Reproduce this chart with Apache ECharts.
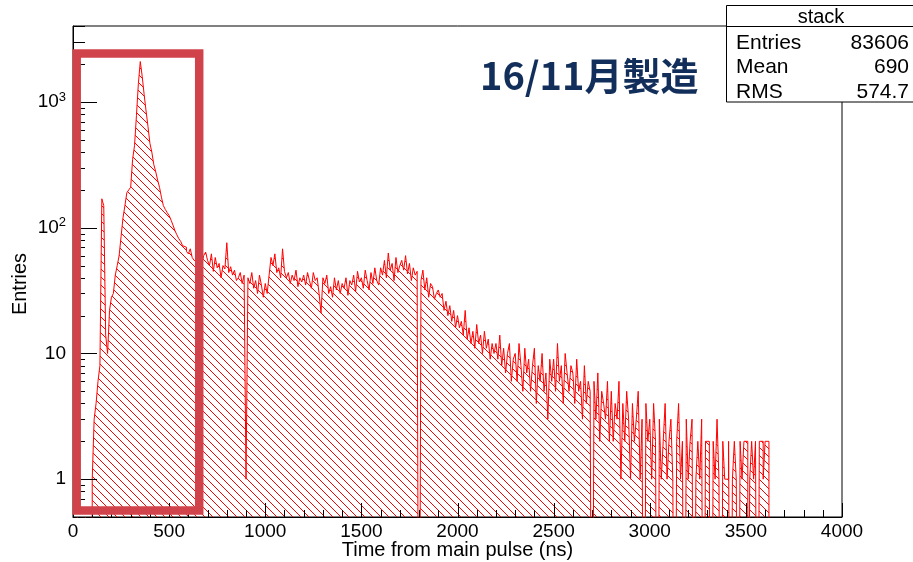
<!DOCTYPE html>
<html>
<head>
<meta charset="utf-8">
<script src="https://cdn.jsdelivr.net/npm/echarts@6/dist/echarts.min.js"></script>
<style>
html,body{margin:0;padding:0;background:#fff;}
#chart{width:913px;height:562px;}
</style>
</head>
<body>
<div id="chart"></div>
<script>
// ---- data ----
const binWidth = 10;      // ns per bin
const binStart = 0;       // ns of first bin
const counts = [
  0,0,0,0,0,0,0,0,0,0,
  1,3,4,6,8,170,150,14,10,22,
  28,30,42,50,60,85,120,150,190,200,
  210,350,450,780,1400,2100,1600,1150,850,640,
  470,400,320,280,240,210,175,150,140,132,
  125,115,105,95,88,82,78,72,70,65,
  62,68,58,55,54,58,63,52,60,64,
  55,50,62,45,58,48,52,40,50,47,
  76,44,49,42,46,38,40,44,36,42,
  1,40,36,44,33,38,30,42,35,28,
  36,30,42,58,50,62,44,48,40,68,
  45,40,44,36,42,38,46,34,40,37,
  42,35,44,38,33,44,38,40,30,21,
  40,36,42,30,34,28,40,32,38,30,
  36,33,40,29,38,35,42,31,45,37,
  40,33,46,38,32,44,36,48,38,35,
  48,42,55,40,63,46,52,38,58,44,
  50,55,46,60,43,52,38,48,42,45,
  0,38,46,32,40,28,36,34,27,30,
  32,28,30,22,26,20,24,18,22,16,
  20,16,18,14,22,13,16,12,15,11,
  17,12,14,10,15,11,13,9,12,10,
  12,9,14,8,11,7,10,12,6,9,
  10,6,12,8,5,11,7,9,5,8,
  11,4,8,6,10,5,7,3,9,6,
  9,5,12,6,8,4,10,7,5,8,
  7,4,9,5,6,3,8,4,6,5,
  0,6,3,7,2,5,4,3,6,2,
  5,2,4,3,6,1,4,2,5,3,
  1,4,2,3,5,1,3,0,4,2,
  3,1,4,2,0,3,1,2,4,1,
  2,3,1,0,2,4,1,2,0,3,
  1,2,3,0,1,2,1,3,0,2,
  2,1,0,2,1,3,1,0,2,1,
  1,2,0,1,2,1,0,2,1,2,
  2,0,1,2,1,2,0,2,2,1,
  2,2
];
const xMin = 0, xMax = 4000, xInterval = 500;
const yMin = 0.5, yMax = 4027;
const xMajorTicks = [0, 500, 1000, 1500, 2000, 2500, 3000, 3500, 4000];
const xMinorTicks = [100,200,300,400,600,700,800,900,1100,1200,1300,1400,1600,1700,1800,1900,2100,2200,2300,2400,2600,2700,2800,2900,3100,3200,3300,3400,3600,3700,3800,3900];
const yMajorTicks = [1, 10, 100, 1000];
const yMajorLabels = ['1', '10', '10{sup|2}', '10{sup|3}'];
const yMinorTicks = [0.6,0.7,0.8,0.9,2,3,4,5,6,7,8,9,20,30,40,50,60,70,80,90,200,300,400,500,600,700,800,900,2000,3000,4000];
const xTitle = 'Time from main pulse (ns)';
const yTitle = 'Entries';
const statsTitle = 'stack';
const statsNames = ['Entries', 'Mean', 'RMS'];
const statsValues = ['83606', '690', '574.7'];
const noteText = '16/11月製造';

// ---- build ----
const EMPTY = 1e-3; // empty bins are drawn below the log-axis floor
const seriesData = counts.map((c, i) => [binStart + i * binWidth, c > 0 ? c : EMPTY]);
seriesData.push([binStart + counts.length * binWidth, EMPTY]);

const tickSpecs = [].concat(
  xMajorTicks.map(v => ({dir: 'x', value: [v, yMin], len: 14})),
  xMinorTicks.map(v => ({dir: 'x', value: [v, yMin], len: 7})),
  yMajorTicks.map(v => ({dir: 'y', value: [xMin, v], len: 24})),
  yMinorTicks.map(v => ({dir: 'y', value: [xMin, v], len: 12}))
);

const HATCH = 8;
function hatchCanvas() {
  const s = HATCH;
  const c = document.createElement('canvas');
  c.width = s; c.height = s;
  const g = c.getContext('2d');
  g.clearRect(0, 0, s, s);
  g.strokeStyle = '#ff0000';
  g.lineWidth = 1;
  g.beginPath();
  [-s, 0, s].forEach(k => { g.moveTo(0, k); g.lineTo(s, s + k); });
  g.stroke();
  return c;
}

const FONT = 'Liberation Sans';
const chart = echarts.init(document.getElementById('chart'), null, {renderer: 'canvas'});

const baseGraphic = [
  {type: 'text', z: 50, x: 20, y: 284, rotation: Math.PI / 2,
   style: {text: yTitle, font: '20px "' + FONT + '"', fill: '#000', align: 'center', verticalAlign: 'middle'}},
  {type: 'rect', z: 60, shape: {x: 76.7, y: 53.5, width: 122.5, height: 457}, style: {fill: 'none', stroke: '#d1434b', lineWidth: 8.5}},
  {type: 'text', z: 60, x: 480, y: 76,
   style: {text: noteText, font: 'bold 38px "Noto Sans CJK JP"', fill: '#122e5a', align: 'left', verticalAlign: 'middle'}},
  {type: 'rect', z: 100, shape: {x: 726.5, y: 5.5, width: 200, height: 96.5}, style: {fill: '#fff', stroke: '#000', lineWidth: 1}},
  {type: 'line', z: 101, shape: {x1: 726.5, y1: 26.5, x2: 913, y2: 26.5}, style: {stroke: '#000', lineWidth: 1}},
  {type: 'text', z: 102, x: 821, y: 17, style: {text: statsTitle, font: '20px "' + FONT + '"', fill: '#000', align: 'center', verticalAlign: 'middle'}}
];
statsNames.forEach((n, i) => {
  baseGraphic.push({type: 'text', z: 102, x: 736, y: 43 + i * 24.5, style: {text: n, font: '21px "' + FONT + '"', fill: '#000', align: 'left', verticalAlign: 'middle'}});
  baseGraphic.push({type: 'text', z: 102, x: 909, y: 43 + i * 24.5, style: {text: statsValues[i], font: '21px "' + FONT + '"', fill: '#000', align: 'right', verticalAlign: 'middle'}});
});

const option = {
  animation: false,
  backgroundColor: '#fff',
  grid: {left: 73, right: 71, top: 26, bottom: 45, show: true, borderColor: '#000', borderWidth: 1, backgroundColor: 'transparent', containLabel: false, outerBoundsMode: 'none'},
  xAxis: {
    type: 'value', min: xMin, max: xMax, interval: xInterval,
    axisLine: {show: true, lineStyle: {color: '#000', width: 1}},
    axisTick: {show: false},
    minorTick: {show: false},
    axisLabel: {color: '#000', fontSize: 19, fontFamily: FONT, margin: 5, formatter: v => String(v)},
    splitLine: {show: false},
    name: xTitle, nameLocation: 'middle', nameGap: 23, nameMoveOverlap: false,
    nameTextStyle: {color: '#000', fontSize: 20, fontFamily: FONT}
  },
  yAxis: {
    type: 'log', logBase: 10, min: yMin, max: yMax,
    axisLine: {show: true, lineStyle: {color: '#000', width: 1}},
    axisTick: {show: false},
    minorTick: {show: false},
    splitLine: {show: false},
    axisLabel: {
      color: '#000', fontSize: 19, fontFamily: FONT, margin: 7,
      showMinLabel: false, showMaxLabel: false,
      formatter: function (v) {
        for (let i = 0; i < yMajorTicks.length; i++) {
          if (Math.abs(v - yMajorTicks[i]) / yMajorTicks[i] < 1e-6) return yMajorLabels[i];
        }
        return '';
      },
      rich: {sup: {fontSize: 13, fontFamily: FONT, color: '#000', padding: [0, 0, 10, 0]}}
    }
  },
  series: [{
    type: 'line',
    step: 'end',
    data: seriesData,
    symbol: 'none',
    clip: true,
    lineStyle: {color: '#ff0000', width: 1},
    areaStyle: {origin: 'start', opacity: 1, color: {image: hatchCanvas(), repeat: 'repeat'}},
    z: 2
  }],
  graphic: baseGraphic
};
chart.setOption(option);

// tick marks placed through the axes' own scales (convertToPixel)
const tickGraphic = tickSpecs.map(t => {
  const p = chart.convertToPixel({xAxisIndex: 0, yAxisIndex: 0}, t.value);
  let shape;
  if (t.dir === 'x') {
    const x = Math.round(p[0]) + 0.5;
    shape = {x1: x, y1: p[1], x2: x, y2: p[1] - t.len};
  } else {
    const y = Math.round(p[1]) + 0.5;
    shape = {x1: p[0], y1: y, x2: p[0] + t.len, y2: y};
  }
  return {type: 'line', z: 55, silent: true, shape: shape, style: {stroke: '#000', lineWidth: 1}};
});
chart.setOption({graphic: baseGraphic.concat(tickGraphic)});
</script>
</body>
</html>
